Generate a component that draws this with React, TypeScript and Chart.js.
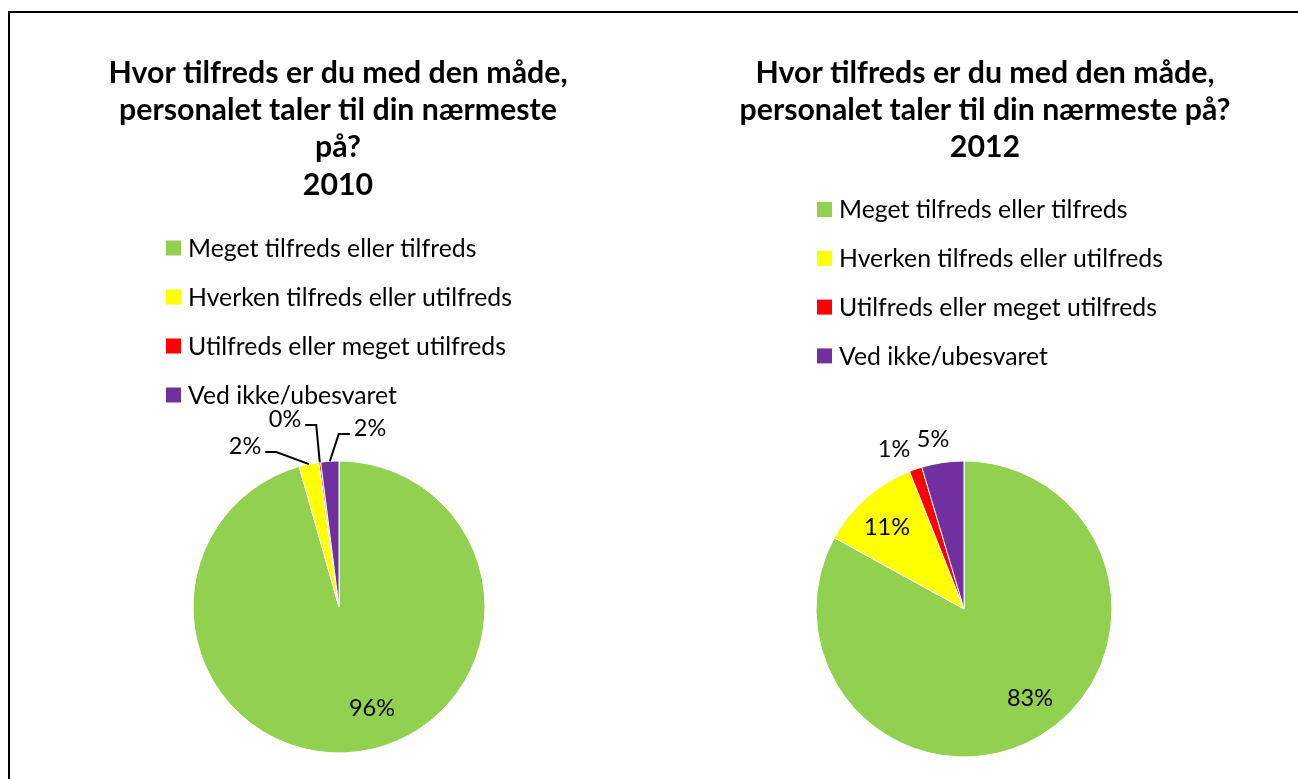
import React, { useEffect, useRef } from "react";
import { Chart, registerables } from "chart.js";

Chart.register(...registerables);

const categories = [
  "Meget tilfreds eller tilfreds",
  "Hverken tilfreds eller utilfreds",
  "Utilfreds eller meget utilfreds",
  "Ved ikke/ubesvaret",
];
const values2010 = [95.6, 2.2, 0.2, 2.0];
const values2012 = [83.0, 11.0, 1.4, 4.6];
const title2010 = ["Hvor tilfreds er du med den måde,", "personalet taler til din nærmeste", "på?", "2010"];
const title2012 = ["Hvor tilfreds er du med den måde,", "personalet taler til din nærmeste på?", "2012"];
const sliceColors = ["#92D050", "#FFFF00", "#FF0000", "#7030A0"];

const FONT = "Lato, 'Open Sans', sans-serif";

type Cfg = {
  title: string[];
  values: number[];
  titleX: number;
  titleY: number;
  titleLH: number;
  legendX: number;
  legendY: number;
  legendLH: number;
  labelOffsets: number[][];
  leaders: boolean[];
  radius: number;
  padding: { top: number; bottom: number; left: number; right: number };
  width: number;
  height: number;
};

const TITLE_SIZE = 30.3;
const LEGEND_SIZE = 24.8;
const LABEL_SIZE = 23.5;

function pctLabels(vals: number[]) {
  const total = vals.reduce((a, b) => a + b, 0);
  return vals.map((v) => Math.round((v / total) * 100) + "%");
}

function decorPlugin(cfg: Cfg) {
  return {
    id: "decor",
    afterDraw(chart: any) {
      const ctx = chart.ctx as CanvasRenderingContext2D;
      ctx.save();
      ctx.fillStyle = "#000";
      ctx.textBaseline = "middle";
      // title
      ctx.textAlign = "center";
      ctx.font = `bold ${TITLE_SIZE}px ${FONT}`;
      cfg.title.forEach((line, i) => ctx.fillText(line, cfg.titleX, cfg.titleY + i * cfg.titleLH));
      // legend
      ctx.textAlign = "left";
      ctx.font = `${LEGEND_SIZE}px ${FONT}`;
      categories.forEach((c, i) => {
        const y = cfg.legendY + i * cfg.legendLH;
        ctx.fillStyle = sliceColors[i];
        ctx.fillRect(cfg.legendX, y - 7.5, 15, 15);
        ctx.fillStyle = "#000";
        ctx.fillText(c, cfg.legendX + 22, y + 1);
      });
      // data labels
      const meta = chart.getDatasetMeta(0);
      const labels = pctLabels(cfg.values);
      ctx.font = `${LABEL_SIZE}px ${FONT}`;
      ctx.textAlign = "center";
      ctx.strokeStyle = "#000";
      ctx.lineWidth = 2;
      meta.data.forEach((arc: any, i: number) => {
        const p = arc.getProps(["x", "y", "startAngle", "endAngle", "outerRadius"], true);
        const lx = p.x + cfg.labelOffsets[i][0];
        const ly = p.y + cfg.labelOffsets[i][1];
        ctx.fillStyle = "#000";
        ctx.fillText(labels[i], lx, ly);
        if (cfg.leaders[i]) {
          const mid = (p.startAngle + p.endAngle) / 2;
          const ex = p.x + p.outerRadius * Math.cos(mid);
          const ey = p.y + p.outerRadius * Math.sin(mid);
          const hw = ctx.measureText(labels[i]).width / 2;
          const leftOf = lx < ex;
          const sx = leftOf ? lx + hw + 4 : lx - hw - 4;
          const sy = ly + 6;
          const bx = leftOf ? sx + 11 : sx - 11;
          ctx.beginPath();
          ctx.moveTo(sx, sy);
          ctx.lineTo(bx, sy);
          ctx.lineTo(ex, ey);
          ctx.stroke();
        }
      });
      ctx.restore();
    },
  };
}

function PieChart({ cfg }: { cfg: Cfg }) {
  const ref = useRef<HTMLCanvasElement | null>(null);
  useEffect(() => {
    if (!ref.current) return;
    const chart = new Chart(ref.current, {
      type: "pie",
      data: {
        labels: categories,
        datasets: [
          {
            data: cfg.values,
            backgroundColor: sliceColors,
            borderColor: "#ffffff",
            borderWidth: 1,
          },
        ],
      },
      options: {
        responsive: false,
        animation: false,
        radius: cfg.radius,
        layout: { padding: cfg.padding },
        plugins: {
          legend: { display: false },
          title: { display: false },
          tooltip: { enabled: false },
        },
      } as any,
      plugins: [decorPlugin(cfg)],
    });
    return () => chart.destroy();
  }, [cfg]);
  return (
    <canvas
      ref={ref}
      width={cfg.width}
      height={cfg.height}
      style={{ width: cfg.width, height: cfg.height, display: "block" }}
    />
  );
}

const cfg2010: Cfg = {
  title: title2010,
  values: values2010,
  titleX: 328,
  titleY: 60,
  titleLH: 37.3,
  legendX: 156,
  legendY: 235,
  legendLH: 49,
  labelOffsets: [
    [33, 101],
    [-94, -161],
    [-54, -188],
    [31, -179],
  ],
  leaders: [false, true, true, true],
  radius: 146,
  padding: { top: 438, bottom: 16, left: 0, right: 0 },
  width: 658,
  height: 766,
};

const cfg2012: Cfg = {
  title: title2012,
  values: values2012,
  titleX: 317,
  titleY: 60,
  titleLH: 37.3,
  legendX: 149,
  legendY: 196.5,
  legendLH: 48.8,
  labelOffsets: [
    [66, 89],
    [-77, -82],
    [-70, -160],
    [-31, -170],
  ],
  leaders: [false, false, false, false],
  radius: 148,
  padding: { top: 440, bottom: 14, left: 0, right: 38 },
  width: 630,
  height: 766,
};

export default function App() {
  return (
    <div
      style={{
        position: "fixed",
        left: 8,
        top: 11,
        width: 1400,
        height: 900,
        border: "2px solid #000",
        background: "#fff",
      }}
    >
      <div style={{ position: "absolute", left: 0, top: 0 }}>
        <PieChart cfg={cfg2010} />
      </div>
      <div style={{ position: "absolute", left: 658, top: 0 }}>
        <PieChart cfg={cfg2012} />
      </div>
    </div>
  );
}
